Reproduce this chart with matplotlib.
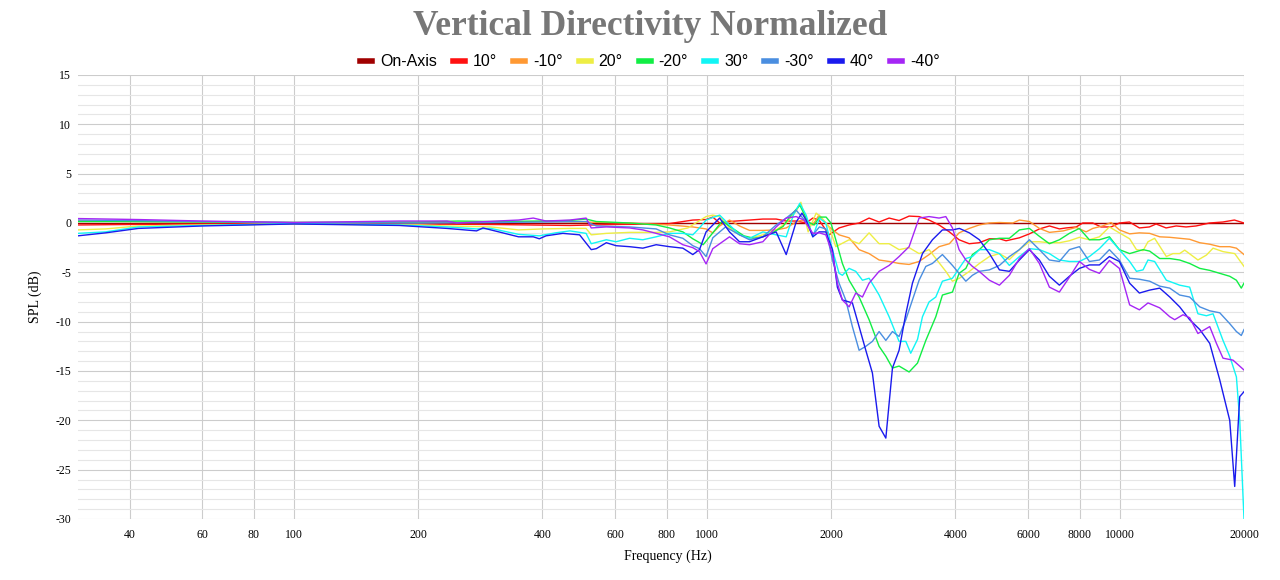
import matplotlib
matplotlib.use("Agg")
import matplotlib.pyplot as plt
from matplotlib.ticker import NullLocator

plt.rcParams["axes.unicode_minus"] = False

# (frequency Hz, SPL dB)
on_axis = [(30, 0.0), (20000, 0.0)]

deg_p10 = [(30,-0.2),(40,-0.15),(60,-0.1),(100,-0.05),(200,-0.1),(300,-0.15),(466,-0.25),(600,-0.15),(800,-0.1),
           (925,0.3),(996,0.35),(1034,0.6),(1074,0.0),(1135,0.15),(1269,0.3),(1367,0.4),(1472,0.4),(1557,0.2),
           (1646,0.2),(1740,0.0),(1806,0.5),(1870,0.3),(1978,-1.2),(2091,-0.5),(2211,-0.2),(2338,0.0),(2472,0.5),
           (2614,0.1),(2764,0.5),(2922,0.25),(3090,0.7),(3267,0.65),(3454,0.3),(3652,-0.2),(3868,-0.9),(4083,-1.7),
           (4320,-2.1),(4566,-2.0),(4835,-1.6),(5114,-1.6),(5306,-1.8),(5716,-1.5),(6044,-1.1),(6392,-0.6),
           (6760,-0.3),(7146,-0.6),(7418,-0.5),(7844,-0.4),(8140,0.0),(8604,0.0),(9014,-0.4),(9532,-0.4),
           (9986,0.0),(10560,0.1),(11160,-0.5),(11800,-0.4),(12250,-0.1),(12950,-0.5),(13700,-0.3),(14480,-0.4),
           (15310,-0.3),(16500,0.0),(17770,0.1),(18960,0.3),(20000,0.0)]

deg_m10 = [(30,0.2),(40,0.15),(60,0.1),(100,0.05),(200,0.05),(300,0.1),(400,0.15),(500,0.1),(650,0.0),
           (812,-0.2),(925,-0.4),(996,-0.6),(1034,-1.0),(1074,-0.3),(1135,0.3),(1200,-0.3),(1269,-0.75),
           (1367,-0.75),(1472,-0.7),(1557,-0.5),(1646,0.1),(1700,0.3),(1805,-0.2),(1870,0.8),(1978,-0.4),
           (2091,-1.2),(2211,-1.5),(2338,-2.7),(2472,-3.1),(2614,-3.75),(2764,-3.9),(2922,-4.1),(3090,-4.2),
           (3267,-3.9),(3454,-3.2),(3652,-2.4),(3868,-2.1),(4083,-1.0),(4320,-0.55),(4566,-0.2),(4835,0.0),
           (5114,0.05),(5508,0.0),(5716,0.3),(6044,0.15),(6392,-0.55),(6760,-0.95),(7300,-0.8),(7844,-0.45),
           (8292,-0.9),(8604,-0.55),(9090,-0.3),(9532,0.05),(9986,-0.7),(10570,-1.1),(11160,-1.0),(11820,-1.05),
           (12500,-1.4),(13220,-1.45),(13970,-1.55),(14770,-1.65),(15630,-2.0),(16520,-2.15),(17470,-2.4),
           (18470,-2.4),(19170,-2.55),(20000,-3.2)]

deg_p20 = [(30,-0.7),(35,-0.6),(42,-0.3),(60,-0.2),(100,-0.1),(200,-0.2),(235,-0.3),(300,-0.4),(350,-0.7),
           (400,-0.6),(466,-0.55),(510,-0.55),(525,-1.2),(571,-1.05),(650,-0.95),(754,-0.95),(812,-0.9),
           (900,-0.5),(940,0.0),(996,0.65),(1034,0.8),(1074,0.65),(1135,-0.5),(1200,-1.2),(1269,-1.55),
           (1367,-1.2),(1472,-0.7),(1557,0.0),(1646,1.2),(1690,2.1),(1760,-0.9),(1840,1.0),(1900,0.5),
           (1978,-0.4),(2053,-2.4),(2211,-1.7),(2338,-2.1),(2472,-1.0),(2614,-2.1),(2764,-2.1),(2922,-2.7),
           (3090,-2.5),(3267,-3.1),(3454,-2.7),(3586,-3.6),(3792,-4.9),(3935,-5.9),(4090,-5.6),(4325,-4.9),
           (4573,-4.1),(4835,-3.4),(5113,-3.1),(5405,-3.7),(5715,-2.7),(6043,-1.9),(6389,-1.9),(6756,-2.0),
           (7143,-2.0),(7553,-1.8),(7986,-1.45),(8444,-1.7),(8929,-1.4),(9441,-0.4),(9982,-1.0),(10570,-1.6),
           (10980,-2.7),(11390,-2.8),(11710,-1.9),(12150,-1.55),(12970,-3.4),(13460,-3.1),(13970,-3.1),
           (14370,-2.75),(15470,-3.75),(16220,-3.25),(16830,-2.55),(17790,-2.9),(18990,-3.1),(20000,-4.4)]

deg_m20 = [(30,0.15),(40,0.15),(60,0.1),(100,0.05),(200,0.1),(250,0.2),(300,0.15),(400,0.2),(466,0.25),
           (510,0.4),(540,0.15),(650,0.0),(754,-0.2),(812,-0.5),(875,-0.9),(925,-1.6),(980,-2.2),(1034,-1.0),
           (1090,0.2),(1150,-0.5),(1230,-1.3),(1300,-1.55),(1367,-1.4),(1440,-1.0),(1530,-0.35),(1600,0.8),
           (1680,1.8),(1760,0.1),(1820,-0.2),(1874,0.6),(1945,0.6),(1998,0.0),(2053,-1.7),(2130,-4.1),
           (2211,-5.8),(2338,-7.5),(2472,-9.8),(2614,-12.5),(2714,-13.5),(2816,-14.7),(2922,-14.5),(3090,-15.1),
           (3238,-14.2),(3392,-11.9),(3586,-9.5),(3721,-7.3),(3935,-7.0),(4083,-5.1),(4240,-4.6),(4398,-3.2),
           (4573,-2.7),(4835,-1.7),(5113,-1.55),(5405,-1.55),(5715,-0.7),(6043,-0.55),(6389,-1.35),(6756,-2.1),
           (7143,-1.7),(7553,-1.05),(7986,-0.55),(8444,-1.7),(8929,-1.7),(9441,-1.4),(9982,-2.7),(10570,-3.1),
           (11390,-2.7),(11820,-2.85),(12500,-3.6),(13220,-3.6),(13970,-3.75),(14770,-4.1),(15630,-4.6),
           (16520,-4.8),(17470,-5.1),(18470,-5.4),(19170,-5.8),(19700,-6.6),(20000,-6.1)]

deg_p30 = [(30,-1.05),(35,-0.9),(42,-0.4),(60,-0.25),(100,-0.05),(180,-0.2),(235,-0.4),(277,-0.6),(300,-0.55),
           (350,-1.15),(393,-1.3),(430,-1.0),(466,-0.8),(510,-1.05),(525,-2.1),(571,-1.7),(603,-1.9),(650,-1.55),
           (700,-1.7),(754,-1.4),(812,-1.05),(875,-1.05),(925,-1.2),(960,-0.5),(996,0.3),(1074,0.8),(1135,-0.2),
           (1200,-1.2),(1269,-1.55),(1367,-0.9),(1472,-1.2),(1557,-1.4),(1620,0.8),(1680,2.0),(1740,0.8),
           (1806,-1.4),(1874,0.5),(1942,0.0),(2015,-2.7),(2091,-5.1),(2130,-5.3),(2211,-4.6),(2295,-4.9),
           (2382,-5.8),(2472,-5.6),(2614,-7.3),(2764,-9.5),(2922,-12.0),(3034,-12.0),(3118,-13.2),(3238,-11.8),
           (3329,-9.5),(3454,-8.0),(3586,-7.5),(3721,-5.9),(3935,-5.6),(4083,-4.6),(4240,-3.6),(4398,-3.4),
           (4573,-2.7),(4835,-2.7),(5113,-3.1),(5405,-4.3),(5715,-3.4),(6043,-2.6),(6389,-2.7),(6756,-3.1),
           (7143,-3.75),(7553,-3.9),(7986,-3.9),(8444,-3.4),(8929,-2.6),(9441,-1.55),(9982,-2.7),(10570,-3.9),
           (10980,-4.9),(11390,-4.75),(11710,-3.75),(12150,-3.9),(12970,-5.8),(13970,-6.3),(14770,-6.5),
           (15470,-9.2),(16220,-9.4),(16830,-9.2),(17790,-11.9),(18470,-13.5),(19170,-15.6),(19530,-20.0),
           (20000,-30.0)]

deg_m30 = [(30,0.3),(40,0.25),(60,0.15),(100,0.05),(200,0.0),(300,0.05),(400,0.1),(510,0.15),(540,-0.3),
           (650,-0.4),(754,-0.6),(812,-1.2),(875,-1.55),(925,-2.3),(960,-2.6),(996,-3.4),(1034,-1.5),(1110,-0.4),
           (1200,-1.2),(1269,-1.7),(1367,-1.4),(1472,-0.2),(1557,0.5),(1646,1.3),(1740,0.1),(1806,-1.2),
           (1874,-0.4),(1942,-0.6),(2015,-3.75),(2091,-6.1),(2170,-7.8),(2252,-10.5),(2338,-12.9),(2427,-12.5),
           (2518,-12.0),(2614,-11.0),(2714,-11.9),(2816,-11.0),(2922,-11.5),(3034,-9.8),(3148,-7.8),(3267,-5.8),
           (3392,-4.4),(3519,-4.1),(3721,-3.2),(3935,-4.3),(4083,-5.1),(4240,-5.9),(4398,-5.3),(4566,-4.9),
           (4835,-4.75),(5113,-4.3),(5405,-3.4),(5715,-2.7),(6043,-1.7),(6389,-2.7),(6756,-3.75),(7143,-3.9),
           (7553,-2.7),(7986,-2.4),(8444,-3.9),(8929,-3.75),(9441,-2.7),(9982,-3.75),(10570,-5.6),(11160,-5.7),
           (11820,-5.9),(12500,-6.4),(13220,-6.6),(13970,-7.3),(14770,-7.5),(15630,-8.5),(16520,-8.9),
           (17470,-9.1),(18470,-10.2),(19170,-11.0),(19700,-11.4),(20000,-10.8)]

deg_p40 = [(30,-1.3),(35,-1.0),(42,-0.55),(60,-0.3),(100,-0.1),(180,-0.25),(235,-0.55),(277,-0.8),(287,-0.5),
           (310,-0.85),(350,-1.4),(380,-1.4),(393,-1.6),(408,-1.3),(448,-1.05),(492,-1.2),(525,-2.7),(540,-2.6),
           (571,-2.0),(603,-2.3),(650,-2.4),(700,-2.55),(754,-2.2),(812,-2.4),(875,-2.55),(925,-3.2),(960,-2.7),
           (996,-0.9),(1074,0.5),(1135,-0.9),(1200,-1.9),(1269,-1.9),(1367,-1.4),(1472,-0.9),(1557,-3.2),
           (1646,0.1),(1700,1.0),(1740,0.3),(1806,-1.4),(1870,-0.9),(1942,-0.9),(2015,-2.7),(2071,-6.5),
           (2130,-7.8),(2252,-8.1),(2338,-10.5),(2427,-12.9),(2518,-15.2),(2614,-20.6),(2714,-21.8),(2816,-14.7),
           (2922,-12.9),(3034,-9.2),(3148,-6.1),(3329,-3.1),(3519,-1.7),(3721,-0.7),(3935,-0.7),(4090,-0.55),
           (4325,-1.0),(4573,-1.7),(4835,-3.1),(5113,-4.75),(5405,-4.9),(5715,-3.75),(6043,-2.7),(6389,-3.75),
           (6756,-5.4),(7143,-6.3),(7553,-5.4),(7986,-4.6),(8444,-4.25),(8929,-4.25),(9441,-3.4),(9982,-3.9),
           (10570,-6.1),(11160,-7.1),(11820,-6.8),(12500,-6.6),(13220,-7.5),(13970,-8.5),(14770,-9.8),
           (15630,-10.8),(16520,-12.2),(17470,-15.9),(18470,-20.0),(18990,-26.7),(19530,-17.6),(20000,-17.1)]

deg_m40 = [(30,0.45),(42,0.35),(60,0.2),(100,0.05),(180,0.2),(235,0.2),(248,0.0),(310,0.2),(350,0.3),
           (380,0.5),(408,0.2),(466,0.3),(510,0.5),(525,-0.5),(571,-0.4),(650,-0.5),(700,-0.7),(754,-1.05),
           (812,-1.4),(875,-2.2),(925,-2.5),(960,-2.9),(996,-4.15),(1034,-2.6),(1135,-1.4),(1200,-2.1),
           (1269,-2.2),(1367,-1.9),(1472,-0.4),(1557,0.5),(1646,0.65),(1720,0.3),(1806,-1.05),(1874,-1.0),
           (1942,-1.2),(2015,-3.1),(2071,-6.1),(2130,-7.8),(2211,-8.5),(2295,-7.1),(2382,-7.5),(2472,-6.1),
           (2614,-4.9),(2764,-4.3),(2922,-3.4),(3090,-2.4),(3267,0.5),(3454,0.65),(3652,0.5),(3792,0.65),
           (3935,-0.5),(4083,-2.7),(4240,-3.75),(4398,-4.4),(4566,-4.9),(4835,-5.8),(5113,-6.3),(5405,-5.3),
           (5715,-3.6),(6043,-2.6),(6389,-4.1),(6756,-6.5),(7143,-7.0),(7553,-5.5),(7986,-3.9),(8444,-4.7),
           (8929,-5.1),(9441,-3.8),(9982,-4.6),(10570,-8.3),(11160,-8.8),(11710,-8.1),(12500,-8.6),(13220,-9.5),
           (13590,-9.8),(14230,-9.3),(14770,-9.6),(15470,-11.2),(16520,-10.5),(17150,-12.2),(17790,-13.7),
           (18810,-13.9),(20000,-14.9)]

labels = ["On-Axis", "10°", "-10°", "20°", "-20°", "30°", "-30°", "40°", "-40°"]
series = [on_axis, deg_p10, deg_m10, deg_p20, deg_m20, deg_p30, deg_m30, deg_p40, deg_m40]
colors = ["#a00000", "#ff1010", "#ff9933", "#eeee44", "#11ee44", "#11f5f5", "#4a8ee0", "#1a1aee", "#a526f5"]

xticks = [40, 60, 80, 100, 200, 400, 600, 800, 1000, 2000, 4000, 6000, 8000, 10000, 20000]
yticks = list(range(-30, 16, 5))

serif = "Liberation Serif"
sans = "Liberation Sans"

fig = plt.figure(figsize=(12.8, 5.8), dpi=100)
ax = fig.add_axes([78/1280, 1 - 519/580, (1244 - 78)/1280, (519 - 75)/580])

for pts, lab, col in zip(series, labels, colors):
    f = [p[0] for p in pts]
    db = [p[1] for p in pts]
    ax.plot(f, db, color=col, lw=1.0, label=lab)

ax.set_xscale("log")
ax.set_xlim(30, 20000)
ax.set_ylim(-30, 15)
ax.set_xticks(xticks)
ax.set_xticklabels([str(t) for t in xticks])
ax.xaxis.set_minor_locator(NullLocator())
ax.set_yticks(yticks)
ax.set_yticklabels([str(t) for t in yticks])
ax.set_yticks(range(-30, 16, 1), minor=True)
ax.grid(which="major", color="#cccccc", lw=0.8)
ax.grid(which="minor", axis="y", color="#e6e6e6", lw=0.8)
ax.set_axisbelow(True)
for s in ax.spines.values():
    s.set_visible(False)
ax.tick_params(which="both", length=0)
ax.tick_params(axis="x", pad=7)
ax.tick_params(axis="y", pad=5)
for t in ax.get_xticklabels() + ax.get_yticklabels():
    t.set_fontfamily(serif)
    t.set_fontsize(8.5)

fig.text(668/1280, 1 - 556/580, "Frequency (Hz)", family=serif, fontsize=10, ha="center", va="center")
fig.text(35/1280, 1 - 297/580, "SPL (dB)", family=serif, fontsize=10, ha="center", va="center", rotation=90)
fig.text(650/1280, 1 - 35/580, "Vertical Directivity Normalized", family=serif, fontweight="bold",
         fontsize=25.5, color="#777777", ha="center", va="baseline")

handles, labs = ax.get_legend_handles_labels()
leg = fig.legend(handles, labs, loc="center", bbox_to_anchor=(650/1280, 1 - 62/580), ncol=9, frameon=False,
                 prop={"family": sans, "size": 11.5}, handlelength=0.75, handletextpad=0.5, columnspacing=1.0)
for h in leg.get_lines():
    h.set_linewidth(4)

fig.savefig("out.png", dpi=100)
